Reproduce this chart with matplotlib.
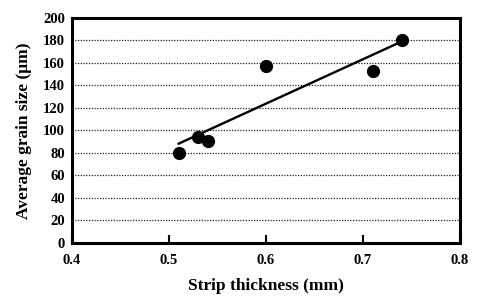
import numpy as np
import matplotlib
matplotlib.use('Agg')
import matplotlib.pyplot as plt

# strip thickness (mm) and average grain size (um)
thickness = [0.51, 0.53, 0.54, 0.60, 0.71, 0.74]
grain_size = [80, 94, 91, 157, 153, 180]

x_ticks = [0.4, 0.5, 0.6, 0.7, 0.8]
y_ticks = [0, 20, 40, 60, 80, 100, 120, 140, 160, 180, 200]

plt.rcParams['font.family'] = 'Liberation Serif'
plt.rcParams['font.weight'] = 'bold'

fig = plt.figure(figsize=(4.81, 3.04), dpi=100)
ax = fig.add_axes([0.1497, 0.2007, 0.8066, 0.7401])

# horizontal dotted grid
for y in y_ticks[1:-1]:
    ax.axhline(y, color='#222222', linestyle=(0, (1, 1.2)), linewidth=0.9, zorder=1)

# linear trend line over the data range
slope, intercept = np.polyfit(thickness, grain_size, 1)
xs = np.array([min(thickness), max(thickness)])
ax.plot(xs, slope * xs + intercept, color='black', linewidth=1.7, zorder=2)

ax.plot(thickness, grain_size, 'o', color='black', markersize=8.5, zorder=3)

ax.set_xlim(0.4, 0.8)
ax.set_ylim(0, 200)
ax.set_xticks(x_ticks)
ax.set_yticks(y_ticks)
ax.set_xticklabels([f'{t:.1f}' for t in x_ticks], fontsize=10.5, fontweight='bold')
ax.set_yticklabels([str(t) for t in y_ticks], fontsize=10.5, fontweight='bold')
ax.tick_params(axis='x', direction='in', length=6, width=1.5, pad=8)
ax.tick_params(axis='y', length=0, pad=5)

for s in ax.spines.values():
    s.set_linewidth(2.2)

ax.set_xlabel('Strip thickness (mm)', fontsize=12.5, fontweight='bold', labelpad=8)
ax.set_ylabel('Average grain size (\u03bcm)', fontsize=12.5, fontweight='bold', labelpad=8)

fig.savefig('out.png', dpi=100)
